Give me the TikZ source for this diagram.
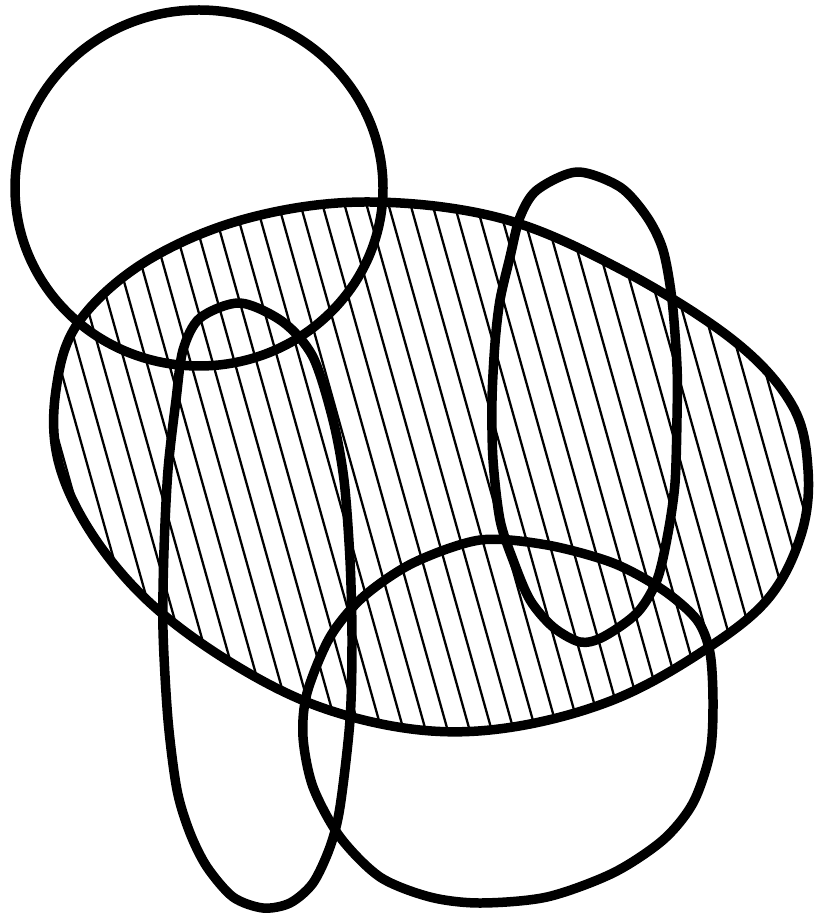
\documentclass[tikz,border=0pt]{standalone}
\tikzset{
  outline/.style={line width=2.7pt, line join=round, draw=black},
  hatch/.style={line width=0.65pt, draw=black},
  oval/.style={smooth cycle, tension=0.6},
}
\begin{document}
\begin{tikzpicture}[x=0.01cm,y=-0.01cm]
\useasboundingbox (0,0) rectangle (814,919);
% hatching clipped to the big oval
\begin{scope}
\clip plot[oval] coordinates {(365,202) (500,218) (620,269) (733,340) (792,405) (808,470) (801,535) (767,600) (700,653) (613,700) (513,727) (420,730) (320,707) (230,662) (148,601) (90,531) (58,460) (56,390) (78,323) (145,262) (245,219)};
\foreach \k in {-14,...,22}
  \draw[hatch] ({221.2+22*\k+0.28*150},150) -- ({221.2+22*\k+0.28*780},780);
\end{scope}
% big oval
\draw[outline] plot[oval] coordinates {(365,202) (500,218) (620,269) (733,340) (792,405) (808,470) (801,535) (767,600) (700,653) (613,700) (513,727) (420,730) (320,707) (230,662) (148,601) (90,531) (58,460) (56,390) (78,323) (145,262) (245,219)};
% top-left circle
\draw[outline] (199,188) ellipse [x radius=184, y radius=178];
% left tall loop
\draw[outline] plot[smooth cycle] coordinates {(240,303) (283,322) (313,357) (333,420) (344,480) (350,560) (352,640) (350,720) (340,807) (330,847) (313,883) (290,903) (263,908) (233,897) (207,867) (190,833) (177,790) (168,720) (163,630) (164,550) (168,470) (176,400) (183,350) (200,318)};
% right tall loop
\draw[outline] plot[smooth cycle] coordinates {(577,172) (620,187) (647,217) (663,250) (672,300) (677,367) (677,417) (675,483) (668,533) (657,580) (637,613) (603,637) (580,642) (553,627) (530,600) (513,560) (500,520) (493,460) (492,400) (495,343) (500,300) (510,257) (520,217) (537,190)};
% bottom round shape
\draw[outline] plot[smooth cycle] coordinates {(480,540) (547,545) (613,563) (663,590) (697,620) (710,653) (713,703) (710,753) (693,803) (663,840) (613,873) (547,897) (480,903) (430,897) (380,877) (340,837) (313,787) (303,737) (307,693) (330,637) (363,597) (413,563)};
\end{tikzpicture}
\end{document}
